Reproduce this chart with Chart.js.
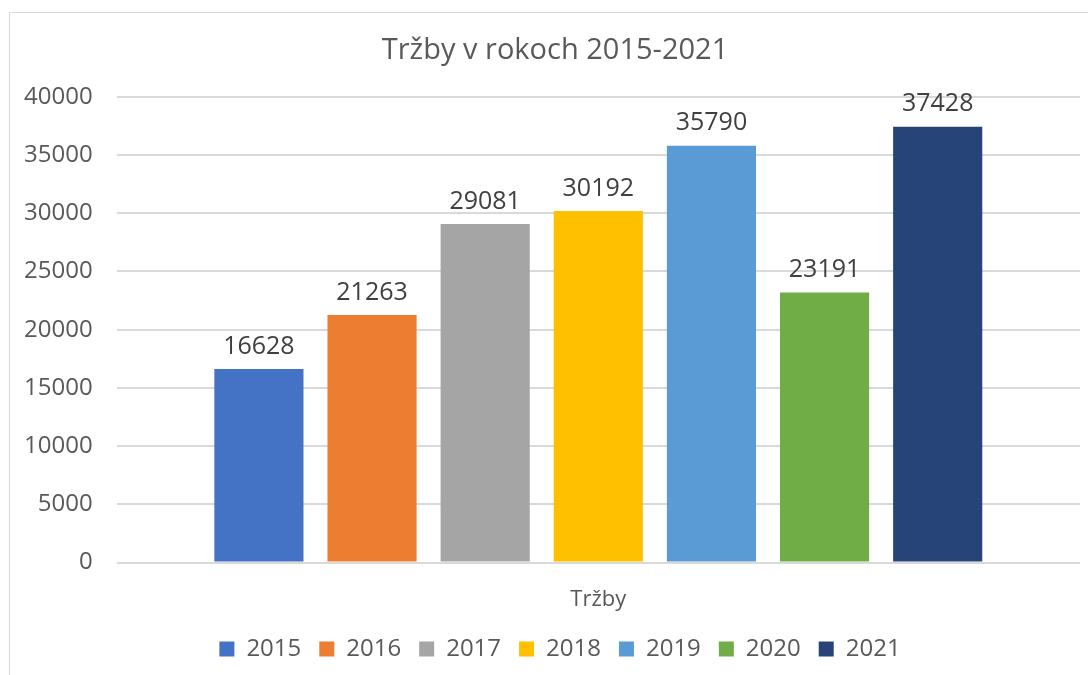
<!DOCTYPE html>
<html lang="sk">
<head>
<meta charset="UTF-8">
<script src="https://cdn.jsdelivr.net/npm/chart.js"></script>
<style>
  html, body { margin: 0; padding: 0; background: #fff; }
  body { width: 1088px; height: 675px; position: relative; overflow: hidden; }
  /* ramček grafu ako v Exceli */
  .frame {
    position: absolute; left: 9px; top: 12px; width: 1100px; height: 700px;
    border: 1px solid #d9d9d9;
  }
  .wrap { position: absolute; left: 0; top: 0; width: 1088px; height: 675px; }
</style>
</head>
<body>
<div class="frame"></div>
<div class="wrap"><canvas id="chartTrzby"></canvas></div>
<script>
  // kategória a roky
  const categories = ['Tržby'];
  const years = ['2015', '2016', '2017', '2018', '2019', '2020', '2021'];
  const sales = [16628, 21263, 29081, 30192, 35790, 23191, 37428];
  const colors = ['#4472C4', '#ED7D31', '#A5A5A5', '#FFC000', '#5B9BD5', '#70AD47', '#264478'];

  const FONT = "'Open Sans', 'Noto Sans', sans-serif";

  // hodnoty nad stĺpcami
  const valueLabels = {
    id: 'valueLabels',
    afterDatasetsDraw(chart) {
      const ctx = chart.ctx;
      ctx.save();
      ctx.font = '25px ' + FONT;
      ctx.fillStyle = '#404040';
      ctx.textAlign = 'center';
      ctx.textBaseline = 'bottom';
      chart.data.datasets.forEach((ds, i) => {
        chart.getDatasetMeta(i).data.forEach((bar, j) => {
          ctx.fillText(ds.data[j], bar.x, bar.y - 10);
        });
      });
      ctx.restore();
    }
  };

  // nadpis a legenda sú v Exceli centrované nad oblasťou grafu, nie nad celým plátnom
  const centerOnPlot = {
    id: 'centerOnPlot',
    afterLayout(chart) {
      const shift = (box, dx) => { if (box) { box.left += dx; box.right += dx; } };
      shift(chart.titleBlock, 15);
      shift(chart.legend, 20);
    }
  };

  new Chart(document.getElementById('chartTrzby'), {
    type: 'bar',
    data: {
      labels: categories,
      datasets: years.map((y, i) => ({
        label: y,
        data: [sales[i]],
        backgroundColor: colors[i],
        borderWidth: 0
      }))
    },
    options: {
      responsive: true,
      maintainAspectRatio: false,
      animation: false,
      categoryPercentage: 0.822,
      barPercentage: 0.788,
      layout: { padding: { left: 0, right: 8, top: 33, bottom: 4 } },
      plugins: {
        title: {
          display: true,
          text: 'Tržby v rokoch 2015-2021',
          color: '#595959',
          font: { family: FONT, size: 29, weight: 'normal' },
          padding: { top: 0, bottom: 29 }
        },
        legend: {
          position: 'bottom',
          labels: {
            color: '#595959',
            font: { family: FONT, size: 24 },
            boxWidth: 15,
            boxHeight: 15,
            padding: 18
          }
        },
        tooltip: { enabled: false }
      },
      scales: {
        x: {
          grid: { display: false },
          border: { display: false },
          ticks: { color: '#595959', font: { family: FONT, size: 22 }, padding: 16 },
          afterFit: s => { s.height -= 10; }
        },
        y: {
          min: 0,
          max: 40000,
          ticks: {
            stepSize: 5000,
            color: '#595959',
            font: { family: FONT, size: 24 },
            padding: 24,
            callback: v => String(v)
          },
          grid: { color: '#d9d9d9', lineWidth: 2, drawTicks: false },
          border: { display: false }
        }
      }
    },
    plugins: [valueLabels, centerOnPlot]
  });
</script>
</body>
</html>
